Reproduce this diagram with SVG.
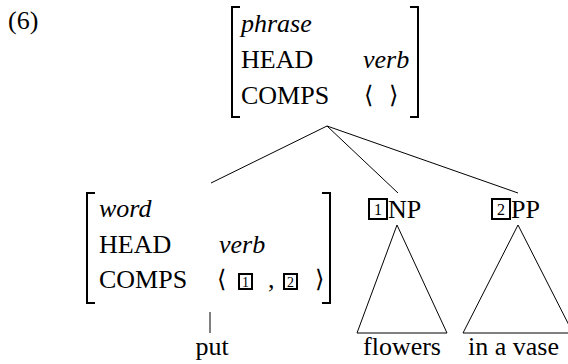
<svg xmlns="http://www.w3.org/2000/svg" width="568" height="364" viewBox="0 0 568 364">
<style>
text{font-family:"Liberation Serif",Tinos,"Nimbus Roman","Nimbus Roman No9 L","Noto Serif","DejaVu Serif",FreeSerif,Times,"Times New Roman",serif;font-size:26px;fill:#000}
.it{font-style:italic}
.ang{font-family:"DejaVu Serif","Liberation Serif",serif;font-size:24px}
.tag{font-size:14px;text-anchor:middle}
.tg2{font-size:16px;text-anchor:middle}
.mid{text-anchor:middle}
.br{fill:none;stroke:#000;stroke-width:2}
.box{fill:none;stroke:#000;stroke-width:2}
.ln{fill:none;stroke:#000;stroke-width:1}
</style>
<rect width="568" height="364" fill="#fff"/>
<text x="8" y="29">(6)</text>
<g id="root">
<path class="br" d="M240,7H232V117H240"/>
<path class="br" d="M410,7H418V117H410"/>
<text class="it" x="241" y="32">phrase</text>
<text x="241" y="68">HEAD</text>
<text class="it" x="363" y="68">verb</text>
<text x="241" y="104">COMPS</text>
<text class="ang" x="364" y="103">⟨</text>
<text class="ang" x="389" y="103">⟩</text>
</g>
<g id="head-word">
<path class="br" d="M95,193H87V303H95"/>
<path class="br" d="M322,193H330V303H322"/>
<text class="it" x="99" y="217">word</text>
<text x="99" y="253">HEAD</text>
<text class="it" x="219" y="253">verb</text>
<text x="99" y="288">COMPS</text>
<text class="ang" x="217" y="287">⟨</text>
<rect class="box" x="239" y="274" width="13" height="15"/>
<text class="tag" x="245.5" y="287">1</text>
<text x="268" y="288">,</text>
<rect class="box" x="284" y="274" width="13" height="15"/>
<text class="tag" x="290.5" y="287">2</text>
<text class="ang" x="315" y="287">⟩</text>
</g>
<g id="put">
<line class="ln" x1="210" y1="312" x2="210" y2="333"/>
<text class="mid" x="212" y="355">put</text>
</g>
<g id="np">
<rect class="box" x="369" y="199" width="18" height="20"/>
<text class="tg2" x="378" y="215">1</text>
<text x="388" y="218">NP</text>
<path class="ln" d="M397,225L357,333H447Z"/>
<text class="mid" x="402" y="355">flowers</text>
</g>
<g id="pp">
<rect class="box" x="492" y="199" width="18" height="20"/>
<text class="tg2" x="501" y="215">2</text>
<text x="511" y="218">PP</text>
<path class="ln" d="M518,225L463,333H573Z"/>
<text x="468" y="355">in a vase</text>
</g>
<g id="connectors">
<line class="ln" x1="327" y1="126" x2="211" y2="183"/>
<line class="ln" x1="327" y1="126" x2="398" y2="193"/>
<line class="ln" x1="327" y1="126" x2="518" y2="193"/>
</g>
</svg>
